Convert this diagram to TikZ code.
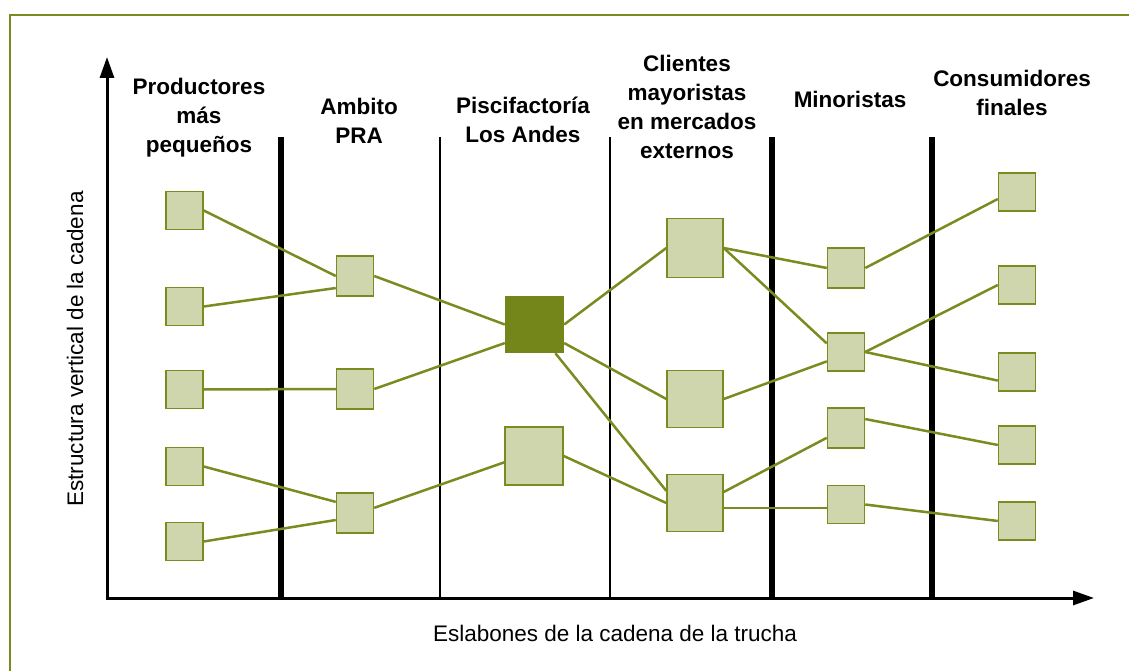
\documentclass[tikz,border=0pt]{standalone}
\usepackage{fontspec}
\setmainfont{Liberation Sans}
\usetikzlibrary{arrows.meta}

\definecolor{oliva}{HTML}{7A8B1F}
\definecolor{olivaclaro}{HTML}{CFD5AC}
\definecolor{olivaosc}{HTML}{748619}

\tikzset{
	caja/.style={draw=oliva, fill=olivaclaro, line width=1.5pt, inner sep=0pt,
		minimum width=37pt, minimum height=38pt},
	cajagrande/.style={caja, minimum width=56pt, minimum height=57pt},
	nucleo/.style={fill=olivaosc, inner sep=0pt, minimum width=59pt, minimum height=57pt},
	enlace/.style={draw=oliva, line width=2.5pt},
	eslabon/.style={align=center, anchor=north, inner sep=0pt,
		font=\fontsize{22.5}{29}\selectfont\bfseries},
	etiqueta/.style={inner sep=0pt, font=\fontsize{22.5}{27}\selectfont},
	eje/.style={line width=3pt, -{Triangle[length=21pt, width=14pt]}}
}

\begin{document}
\begin{tikzpicture}[x=1pt, y=-1pt]
	\useasboundingbox (0,0) rectangle (1129,671);
	
	% Marco verde
	\draw[oliva, line width=2.8pt] (1129,15) -- (10,15) -- (10,671);
	
	% Separadores de los eslabones
	\draw[line width=5.5pt] (281,137) -- (281,598);
	\draw[line width=2.7pt] (440,137) -- (440,598);
	\draw[line width=2.7pt] (610,137) -- (610,598);
	\draw[line width=5.5pt] (772,137) -- (772,598);
	\draw[line width=5.5pt] (932,137) -- (932,598);
	
	% Ejes
	\coordinate (origen) at (107,598);
	\coordinate (arriba) at (107,57);
	\coordinate (derecha) at (1094,598);
	\draw[eje] ([yshift=1.5pt]origen) -- (arriba);
	\draw[eje] ([xshift=-1.5pt]origen) -- (derecha);
	\node[etiqueta, rotate=90] (ejey) at (75,349) {Estructura vertical de la cadena};
	\node[etiqueta] (ejex) at (615,633) {Eslabones de la cadena de la trucha};
	
	% Titulos de los eslabones
	\node[eslabon] (tprod) at (199,78) {Productores\\más\\pequeños};
	\node[eslabon] (tpra) at (359,98) {Ambito\\PRA};
	\node[eslabon] (tpisc) at (523,97) {Piscifactoría\\Los Andes};
	\node[eslabon] (tcli) at (687,55) {Clientes\\mayoristas\\en mercados\\externos};
	\node[eslabon] (tmin) at (850,91) {Minoristas};
	\node[eslabon] (tcons) at (1012,70) {Consumidores\\finales};
	
	% Cajas
	\node[caja] (p1) at (184.5,210.5) {};
	\node[caja] (p2) at (184.5,306.5) {};
	\node[caja] (p3) at (184.5,389.5) {};
	\node[caja] (p4) at (184.5,466.5) {};
	\node[caja] (p5) at (184.5,541.5) {};
	\node[caja, minimum height=40pt] (a1) at (355,276) {};
	\node[caja, minimum height=40pt] (a2) at (355,389) {};
	\node[caja, minimum height=40pt] (a3) at (355,513) {};
	\node[nucleo] (hub) at (534.5,324.5) {};
	\node[cajagrande, minimum width=58pt, minimum height=58pt] (lan) at (534,456) {};
	\node[cajagrande, minimum height=59pt] (c1) at (695,248) {};
	\node[cajagrande] (c2) at (695,399) {};
	\node[cajagrande] (c3) at (695,503) {};
	\node[caja, minimum height=40pt] (m1) at (846,268) {};
	\node[caja] (m2) at (846,352) {};
	\node[caja, minimum height=40pt] (m3) at (846,428) {};
	\node[caja] (m4) at (846,504.5) {};
	\node[caja] (f1) at (1017,192) {};
	\node[caja] (f2) at (1017,285) {};
	\node[caja] (f3) at (1017,372) {};
	\node[caja] (f4) at (1017,445) {};
	\node[caja] (f5) at (1017,521) {};
	
	% Enlaces entre eslabones
	\draw[enlace] (p1.east) -- (a1.west);
	\draw[enlace] (p2.east) -- (a1.212);
	\draw[enlace] (p3.east) -- (a2.west);
	\draw[enlace] (p4.east) -- (a3.150);
	\draw[enlace] (p5.east) -- (a3.200);
	\draw[enlace] (a1.east) -- (hub.west);
	\draw[enlace] (a2.east) -- (hub.212);
	\draw[enlace] (a3.15) -- (lan.192);
	\draw[enlace] (hub.east) -- (c1.west);
	\draw[enlace] (hub.-32) -- (c2.west);
	\draw[enlace] (hub.-54) -- (c3.157);
	\draw[enlace] (lan.east) -- (c3.west);
	\draw[enlace] (c1.east) -- (m1.west);
	\draw[enlace] (c1.east) -- (m2.156);
	\draw[enlace] (c2.east) -- (m2.206);
	\draw[enlace] (c3.21) -- (m3.207);
	\draw[enlace] (m4.190 -| c3.east) -- (m4.190);
	\draw[enlace] (m1.east) -- (f1.200);
	\draw[enlace] (m2.east) -- (f2.west);
	\draw[enlace] (m2.east) -- (f3.204);
	\draw[enlace] (m3.25) -- (f4.west);
	\draw[enlace] (m4.east) -- (f5.west);
	
\end{tikzpicture}
\end{document}
